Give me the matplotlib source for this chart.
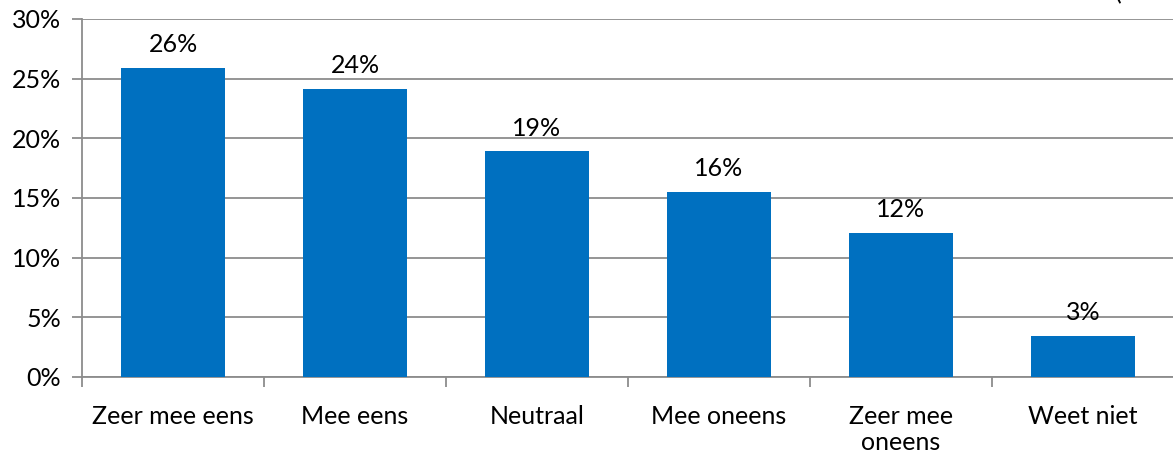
import matplotlib.pyplot as plt
import numpy as np

# data
categories = ['Zeer mee eens', 'Mee eens', 'Neutraal', 'Mee oneens', 'Zeer mee\noneens', 'Weet niet']
waarden = [25.9, 24.1, 18.9, 15.5, 12.1, 3.4]
labels = ['26%', '24%', '19%', '16%', '12%', '3%']
yticks = [0, 5, 10, 15, 20, 25, 30]

plt.rcParams['font.family'] = ['Lato', 'DejaVu Sans']
fs = 18

fig = plt.figure(figsize=(11.73, 4.57), dpi=100)
ax = fig.add_axes([82/1173, 1 - 377/457, 1092/1173, 358/457])

x = np.arange(len(categories))
ax.bar(x, waarden, width=0.57, color='#0070C0', zorder=3)

for xi, v, lab in zip(x, waarden, labels):
    ax.text(xi, v + 1.0, lab, ha='center', va='bottom', fontsize=fs)

grijs = '#8c8c8c'
ax.set_ylim(0, 30)
ax.set_xlim(-0.5, len(categories) - 0.5)
ax.set_yticks(yticks)
ax.set_yticklabels([str(t) + '%' for t in yticks], fontsize=fs)
ax.yaxis.grid(True, color=grijs, linewidth=1.3, zorder=0)

# ticks op de grenzen tussen categorieen
ax.set_xticks(np.arange(-0.5, len(categories), 1.0))
ax.set_xticklabels([])
ax.set_xticks(x, minor=True)
ax.set_xticklabels(categories, minor=True, fontsize=fs, linespacing=1.15)
ax.tick_params(axis='x', which='minor', length=0, pad=20)
ax.tick_params(axis='x', which='major', length=7, width=1.3, color=grijs)
ax.tick_params(axis='y', length=7, width=1.3, color=grijs, pad=8)

for s in ['top', 'right']:
    ax.spines[s].set_visible(False)
ax.spines['left'].set_color(grijs)
ax.spines['left'].set_linewidth(1.3)
ax.spines['bottom'].set_color(grijs)
ax.spines['bottom'].set_linewidth(1.3)

# afgesneden tekst rechtsboven (in het origineel grotendeels buiten beeld)
fig.text(1115/1173, 1.0, '(n=1.000)', fontsize=fs, ha='left', va='baseline')

fig.savefig('out.png', dpi=100)
